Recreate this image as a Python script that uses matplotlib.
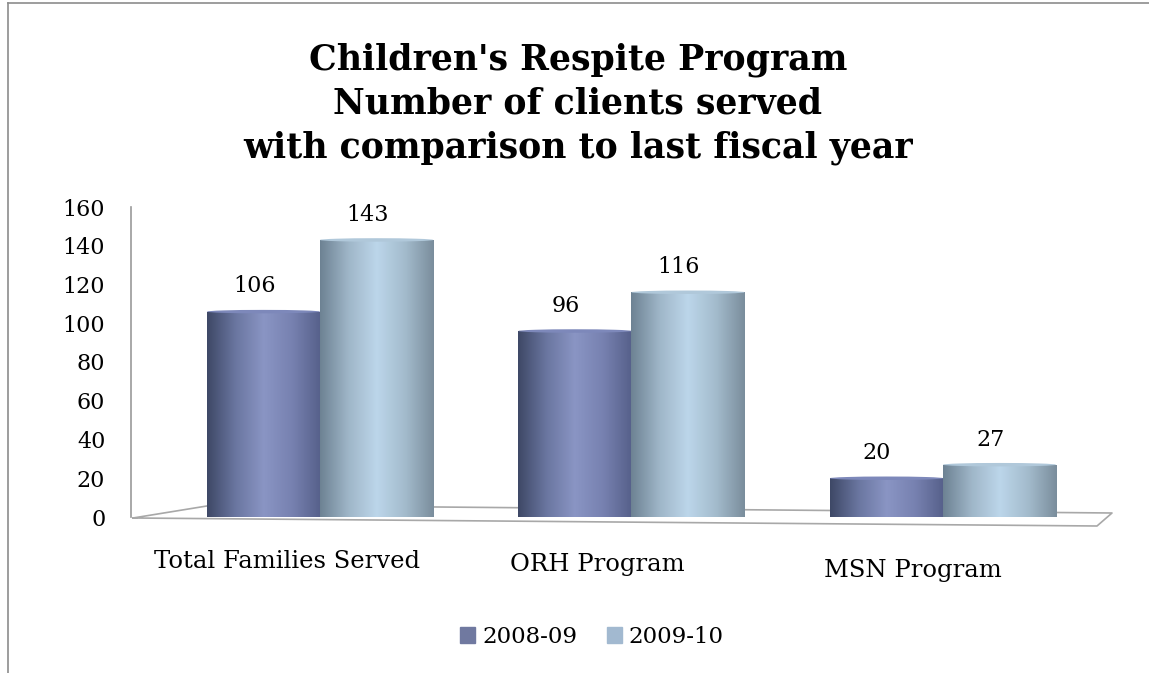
import matplotlib
matplotlib.use("Agg")
import matplotlib.pyplot as plt
import numpy as np
from matplotlib.colors import LinearSegmentedColormap
from matplotlib.patches import Rectangle, Ellipse
from matplotlib.lines import Line2D

categories = ["Total Families Served", "ORH Program", "MSN Program"]
series_names = ["2008-09", "2009-10"]
values_0809 = [106, 96, 20]
values_0910 = [143, 116, 27]
yticks = [0, 20, 40, 60, 80, 100, 120, 140, 160]
title = "Children's Respite Program\nNumber of clients served\nwith comparison to last fiscal year"

W, H = 1149, 673
fig = plt.figure(figsize=(W/100, H/100), dpi=100)
fig.patch.set_facecolor("white")
SERIF = "DejaVu Serif"

# outer frame (cut at right/bottom)
fig.add_artist(Line2D([8/W, 8/W], [0, 1-3/H], color="#8c8c8c", lw=1.2, transform=fig.transFigure))
fig.add_artist(Line2D([8/W, 1], [1-3/H, 1-3/H], color="#8c8c8c", lw=1.2, transform=fig.transFigure))

ax_left, ax_right = 131/W, 1108/W
ax_bot, ax_top = 1-517/H, 1-207/H
ax = fig.add_axes([ax_left, ax_bot, ax_right-ax_left, ax_top-ax_bot])
XLIM = (-0.607, 2.53)
ax.set_xlim(*XLIM)
ax.set_ylim(0, 160)
for s in ["top", "right", "bottom"]:
    ax.spines[s].set_visible(False)
ax.spines["left"].set_color("#9a9a9a")
ax.spines["left"].set_linewidth(1.2)
ax.set_xticks([])
ax.set_yticks(yticks)
ax.tick_params(axis="y", length=0, pad=18.5)
for lab in ax.get_yticklabels():
    lab.set_fontfamily(SERIF)
    lab.set_fontsize(16)

# floor (pseudo 3D) in pixel -> data mapping
def px2data(px, py):
    inv = ax.transData.inverted()
    return inv.transform((px, H - py))
floor = [(133, 518), (213, 505), (1112, 513), (1097, 526), (133, 518)]
fd = np.array([px2data(*p) for p in floor])
ax.plot(fd[:, 0], fd[:, 1], color="#a8a8a8", lw=1.2, clip_on=False, zorder=1)

cmap0 = LinearSegmentedColormap.from_list("c0", ["#3e4866", "#6a76a0", "#8a95c4", "#7781b0", "#56608a"])
cmap1 = LinearSegmentedColormap.from_list("c1", ["#6d8293", "#9fb6c8", "#bcd6ea", "#a3bbcc", "#7a8d9c"])
grad = np.linspace(0, 1, 256).reshape(1, -1)

x = np.arange(len(categories))
width = 0.363
offsets = [-width/2, width/2]
allvals = [values_0809, values_0910]
cmaps = [cmap0, cmap1]
tops = ["#7d88ba", "#b0c8da"]
for si in range(2):
    vals = allvals[si]
    bars = ax.bar(x + offsets[si], vals, width=width, color="none", edgecolor="none", zorder=3)
    for b, v in zip(bars, vals):
        x0 = b.get_x(); x1 = x0 + b.get_width()
        im = ax.imshow(grad, cmap=cmaps[si], extent=(x0, x1, 0, v), aspect="auto", zorder=3)
        im.set_clip_path(b)
        ax.add_patch(Ellipse(((x0+x1)/2, v), x1-x0, 1.8, facecolor=tops[si], edgecolor="none", zorder=4))
        ax.text((x0+x1)/2 - 0.03, v + 13, str(v), ha="center", va="center",
                fontfamily=SERIF, fontsize=16, zorder=5)

ax.set_xlim(*XLIM)
ax.set_ylim(0, 160)

# category labels
cat_px = [(287, 562), (597, 565), (913, 570)]
for name, (px, py) in zip(categories, cat_px):
    fig.text(px/W, 1-py/H, name, ha="center", va="center", fontfamily=SERIF, fontsize=17.5)

# title
fig.text(578/W, 1-104/H, title, ha="center", va="center", fontfamily=SERIF,
         fontweight="bold", fontsize=25, linespacing=1.36)

# legend
handles = [Rectangle((0, 0), 1, 1, color="#7079a0"), Rectangle((0, 0), 1, 1, color="#a2b9d0")]
leg = fig.legend(handles, series_names, loc="center", bbox_to_anchor=(592/W, 1-637/H),
                 ncol=2, frameon=False, prop={"family": SERIF, "size": 16.5},
                 handlelength=0.65, handleheight=0.65, handletextpad=0.3, columnspacing=1.3,
                 borderpad=0, borderaxespad=0)

fig.savefig("out.png", dpi=100, facecolor="white")
